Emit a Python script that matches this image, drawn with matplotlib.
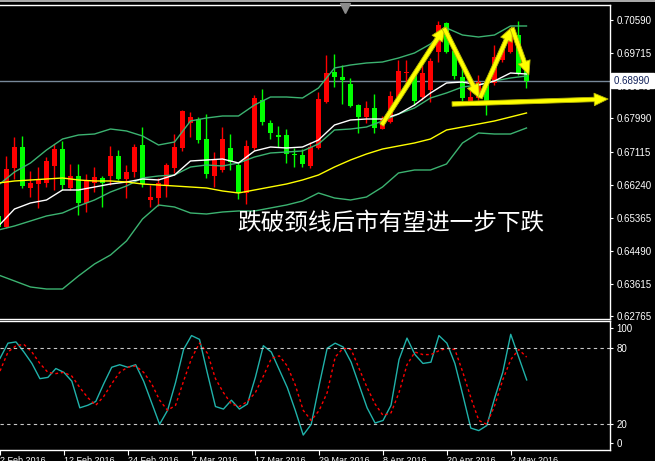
import numpy as np
import matplotlib.pyplot as plt
from matplotlib.patches import FancyArrowPatch, Rectangle
from matplotlib.transforms import blended_transform_factory

plt.rcParams['font.family'] = ['Liberation Sans', 'DejaVu Sans']

# daily candles, 2 Feb 2016 .. 4 May 2016 (red = up, green = down)
opens = [0.65416, 0.65133, 0.66691, 0.67237, 0.66163, 0.66268, 0.66295, 0.66736, 0.67184, 0.66155,
         0.66472, 0.65767, 0.66287, 0.66419, 0.66480, 0.67000, 0.66392, 0.66577, 0.67290, 0.65846,
         0.65899, 0.66234, 0.66691, 0.67219, 0.67871, 0.67976, 0.67448, 0.66472, 0.66630, 0.67211,
         0.66762, 0.66023, 0.67211, 0.68478, 0.67871, 0.67554, 0.67554, 0.67052, 0.67026, 0.66736,
         0.67219, 0.68425, 0.69217, 0.69085, 0.68900, 0.68346, 0.68029, 0.68267, 0.67720, 0.67897,
         0.68557, 0.69191, 0.69191, 0.68565, 0.68742, 0.69753, 0.70511, 0.69772, 0.69093, 0.68417,
         0.68523, 0.68961, 0.68919, 0.69534, 0.69753, 0.70194, 0.69402]
highs = [0.65521, 0.67000, 0.67501, 0.67528, 0.66604, 0.66709, 0.66973, 0.67309, 0.67396, 0.66788,
         0.66788, 0.66524, 0.66709, 0.66472, 0.67264, 0.67158, 0.66762, 0.67316, 0.67765, 0.66234,
         0.66419, 0.66815, 0.67580, 0.68214, 0.68161, 0.68037, 0.68108, 0.67105, 0.67765, 0.67580,
         0.66815, 0.67422, 0.68610, 0.68768, 0.67950, 0.67792, 0.67712, 0.67211, 0.67184, 0.67369,
         0.68689, 0.69666, 0.69692, 0.69402, 0.69059, 0.68372, 0.68452, 0.68636, 0.68056, 0.68716,
         0.69534, 0.69534, 0.69217, 0.69400, 0.69587, 0.70564, 0.70545, 0.69877, 0.69331, 0.68742,
         0.69138, 0.69059, 0.69930, 0.69930, 0.70371, 0.70564, 0.69447]
lows = [0.65072, 0.65091, 0.66385, 0.66147, 0.65917, 0.65635, 0.66189, 0.66102, 0.66102, 0.66102,
        0.65442, 0.65529, 0.66057, 0.65661, 0.66234, 0.66366, 0.65883, 0.66445, 0.66189, 0.65661,
        0.65688, 0.65925, 0.66559, 0.67140, 0.67501, 0.67343, 0.66427, 0.66181, 0.66577, 0.66630,
        0.65864, 0.65732, 0.67158, 0.67818, 0.67448, 0.67237, 0.66815, 0.66709, 0.66709, 0.66683,
        0.67184, 0.68399, 0.68821, 0.68372, 0.68293, 0.67607, 0.67871, 0.67607, 0.67712, 0.67871,
        0.68531, 0.68874, 0.68346, 0.68478, 0.68425, 0.69489, 0.69711, 0.69032, 0.68433, 0.68391,
        0.68478, 0.68082, 0.68874, 0.69489, 0.69711, 0.69138, 0.68787]
closes = [0.65125, 0.66656, 0.67237, 0.66208, 0.66287, 0.66392, 0.66876, 0.67184, 0.66234, 0.66472,
          0.65759, 0.66340, 0.66445, 0.66287, 0.67000, 0.66392, 0.66577, 0.67237, 0.66260, 0.65925,
          0.66287, 0.66762, 0.67237, 0.68188, 0.68029, 0.67430, 0.66532, 0.66894, 0.67448, 0.66841,
          0.66023, 0.67264, 0.68531, 0.67897, 0.67607, 0.67501, 0.67052, 0.67026, 0.66788, 0.67237,
          0.68504, 0.69191, 0.69085, 0.69006, 0.68320, 0.68029, 0.68267, 0.67747, 0.67976, 0.68584,
          0.69244, 0.69217, 0.68452, 0.69199, 0.69516, 0.70458, 0.69753, 0.69120, 0.68523, 0.68565,
          0.68961, 0.68452, 0.69621, 0.69798, 0.70326, 0.69183, 0.68990]

# indicator lines, read every second bar
band_upper = [0.66234, 0.66577, 0.66815, 0.67158, 0.67448, 0.67554, 0.67580, 0.67712, 0.67660, 0.67528,
              0.67290, 0.67369, 0.67924, 0.68003, 0.68056, 0.68056, 0.68346, 0.68557, 0.68557, 0.68531,
              0.68795, 0.69323, 0.69402, 0.69455, 0.69481, 0.69587, 0.69719, 0.69956, 0.70379, 0.70194,
              0.70141, 0.70194, 0.70432, 0.70432]
band_mid = [0.65046, 0.65152, 0.65284, 0.65416, 0.65495, 0.65680, 0.65838, 0.66049, 0.66208, 0.66419,
            0.66472, 0.66498, 0.66709, 0.66762, 0.66736, 0.66815, 0.66973, 0.67079, 0.67105, 0.67132,
            0.67316, 0.67686, 0.67712, 0.67765, 0.67924, 0.68108, 0.68267, 0.68531, 0.68663, 0.68821,
            0.68874, 0.68980, 0.69059, 0.69112]
band_low = [0.63858, 0.63700, 0.63541, 0.63488, 0.63488, 0.63832, 0.64148, 0.64386, 0.64756, 0.65336,
            0.65706, 0.65653, 0.65495, 0.65468, 0.65521, 0.65548, 0.65548, 0.65627, 0.65706, 0.65812,
            0.66023, 0.65891, 0.65838, 0.65917, 0.66181, 0.66551, 0.66630, 0.66630, 0.66788, 0.67343,
            0.67607, 0.67580, 0.67580, 0.67739]
ma_fast = [0.65152, 0.65600, 0.65759, 0.65838, 0.66102, 0.66102, 0.66181, 0.66260, 0.66313, 0.66392,
           0.66366, 0.66498, 0.66868, 0.66894, 0.66920, 0.66815, 0.67132, 0.67237, 0.67211, 0.67237,
           0.67422, 0.67818, 0.67950, 0.67976, 0.67976, 0.68108, 0.68346, 0.68663, 0.68927, 0.68953,
           0.68874, 0.68980, 0.69191, 0.69164]
ma_slow = [0.66287, 0.66340, 0.66366, 0.66392, 0.66419, 0.66366, 0.66340, 0.66340, 0.66313, 0.66260,
           0.66234, 0.66208, 0.66181, 0.66155, 0.66076, 0.66023, 0.66102, 0.66181, 0.66260, 0.66366,
           0.66498, 0.66709, 0.66894, 0.67052, 0.67184, 0.67264, 0.67343, 0.67448, 0.67686, 0.67765,
           0.67844, 0.67924, 0.68029, 0.68135]

# stochastic
stoch_main = [72, 84, 85, 77, 68, 56, 57, 64, 61, 54,
              33, 35, 38, 52, 65, 67, 65, 67, 54, 37,
              20, 31, 53, 79, 90, 87, 60, 34, 32, 39,
              32, 36, 57, 82, 77, 63, 49, 31, 11.5, 20,
              51, 80, 84, 81, 69, 51, 33, 21, 23, 35,
              71, 88, 75, 68, 69, 90, 84, 68, 43, 17,
              15, 19, 41, 61, 91, 73, 55]
stoch_signal = [62, 77, 82, 83, 77, 68, 61, 60, 61, 58,
                49, 41, 35, 42, 52, 61, 65, 66, 61, 52,
                39, 31, 35, 54, 72, 84, 76, 56, 45, 36,
                34, 38, 45, 58, 72, 74, 66, 51, 31, 23,
                31, 45, 73, 80, 79, 64, 49, 36, 27, 29,
                45, 67, 77, 75, 75, 78, 80, 79, 61, 41,
                23, 20, 35, 55, 71, 79, 73]

price_ticks = [0.70590, 0.69715, 0.68840, 0.67990, 0.67115, 0.66240, 0.65365, 0.64490, 0.63615, 0.62765]
date_pos = [0, 8, 16, 24, 32, 40, 48, 56, 64]
date_labels = ['2 Feb 2016', '12 Feb 2016', '24 Feb 2016', '7 Mar 2016', '17 Mar 2016',
               '29 Mar 2016', '8 Apr 2016', '20 Apr 2016', '2 May 2016']
last_price = 0.68990
caption = '跌破颈线后市有望进一步下跌'

opens = np.array(opens); highs = np.array(highs)
lows = np.array(lows); closes = np.array(closes)
bars = np.arange(len(closes))
line_x = np.arange(0, len(closes), 2)

fig = plt.figure(figsize=(6.55, 4.61), dpi=100, facecolor='black')
ax = fig.add_axes([0, 0.30803, 0.93130, 0.68112])
ax2 = fig.add_axes([0, 0.02386, 0.93130, 0.27983])
fig.add_artist(Rectangle((0, 1 - 2 / 461), 1, 2 / 461, transform=fig.transFigure,
                         color='#A8A8A8', lw=0))

for a in (ax, ax2):
    a.set_facecolor('black')
    a.set_xlim(0.1875, 76.44)
    a.spines['left'].set_visible(False)
    for s in ['top', 'right', 'bottom']:
        a.spines[s].set_color('white')
        a.spines[s].set_linewidth(1)
    a.yaxis.tick_right()
    a.tick_params(axis='y', colors='white', length=2.5, width=0.8, labelsize=7, pad=2)

# candles
colors = np.where(closes >= opens, '#FF0000', '#00FF00')
ax.vlines(bars, lows, highs, colors=colors, linewidth=1, zorder=2)
body_h = np.maximum(np.abs(closes - opens), 0.00015)
ax.bar(bars, body_h, bottom=np.minimum(opens, closes), width=0.66,
       color=colors, linewidth=0, zorder=2)

# indicators
for band in (band_upper, band_mid, band_low):
    ax.plot(line_x, band, color='#3CB371', lw=1, zorder=3)
ax.plot(line_x, ma_fast, color='white', lw=1, zorder=3)
ax.plot(line_x, ma_slow, color='#FFFF00', lw=1, zorder=3)

ax.axhline(last_price, color='#778899', lw=1, zorder=1)
ax.set_ylim(0.62696, 0.70986)
ax.set_xticks([])
ax.set_yticks(price_ticks)
ax.set_yticklabels(['%.5f' % p for p in price_ticks])

trans = blended_transform_factory(ax.transAxes, ax.transData)
ax.text(1.006, last_price, '%.5f' % last_price + ' ', transform=trans, fontsize=7,
        color='#10205A', ha='left', va='center', zorder=6,
        bbox=dict(fc='white', ec='white', pad=1.6))

# chart shift marker
ax.plot([0.5656], [0.9904], marker='v', ms=7, color='#8C8C8C', transform=ax.transAxes,
        clip_on=False, zorder=6)

# pattern arrows (double top + neckline)
arrows = [((47.9, 0.67818), (55.8, 0.70405)),
          ((55.7, 0.70379), (60.1, 0.68531)),
          ((60.2, 0.68531), (64.2, 0.70405)),
          ((64.2, 0.70379), (66.3, 0.69138)),
          ((56.7, 0.68372), (76.2, 0.68504))]
for a_from, a_to in arrows:
    ax.add_patch(FancyArrowPatch(a_from, a_to,
                                 arrowstyle='simple,head_length=10,head_width=9,tail_width=3.2',
                                 mutation_scale=1, shrinkA=0, shrinkB=0,
                                 fc='#FFFF00', ec='#B5B500', lw=0.6, zorder=8, clip_on=False))

ax.text(29.8, 0.65231, caption, fontsize=17, color='white', fontweight='light',
        family=['Noto Sans CJK SC', 'DejaVu Sans'], ha='left', va='center', zorder=7)

# stochastic panel
ax2.plot(bars, stoch_main, color='#20B2AA', lw=1)
ax2.plot(bars, stoch_signal, color='#FF0000', lw=1, ls=(0, (2, 2)))
for lvl in (80, 20):
    ax2.axhline(lvl, color='#C8C8C8', lw=0.8, ls=(0, (3, 3)))
ax2.set_ylim(-0.3, 101.5)
ax2.set_yticks([96, 80, 20, 5])
ax2.set_yticklabels(['100', '80', '20', '0'])
ax2.set_xticks(date_pos)
ax2.set_xticklabels(date_labels, ha='left')
ax2.tick_params(axis='x', colors='white', length=3.6, width=0.8, labelsize=6.5, pad=0.5)

fig.savefig('out.png', dpi=100, facecolor='black')
